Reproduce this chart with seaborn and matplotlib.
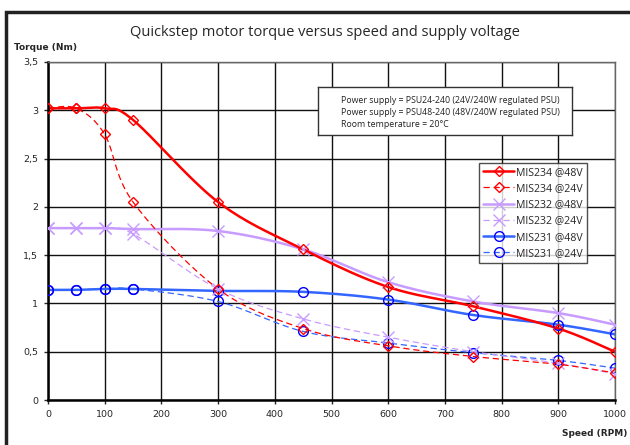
import numpy as np
import pandas as pd
import matplotlib
matplotlib.use('Agg')
import matplotlib.pyplot as plt
import seaborn as sns
from matplotlib.lines import Line2D
from matplotlib.patches import Rectangle
from matplotlib.ticker import FuncFormatter

# data
speed = [0, 50, 100, 150, 300, 450, 600, 750, 900, 1000]
mis234_48 = [3.02, 3.02, 3.02, 2.90, 2.05, 1.56, 1.17, 0.97, 0.74, 0.50]
mis234_24 = [3.02, 3.02, 2.75, 2.05, 1.15, 0.74, 0.56, 0.45, 0.37, 0.28]
mis232_48 = [1.78, 1.78, 1.78, 1.77, 1.75, 1.56, 1.22, 1.02, 0.90, 0.78]
mis232_24 = [1.78, 1.78, 1.78, 1.72, 1.15, 0.84, 0.65, 0.50, 0.38, 0.27]
mis231_48 = [1.14, 1.14, 1.15, 1.15, 1.13, 1.12, 1.04, 0.88, 0.78, 0.68]
mis231_24 = [1.14, 1.14, 1.15, 1.15, 1.02, 0.71, 0.59, 0.49, 0.41, 0.33]

note_lines = ["Power supply = PSU24-240 (24V/240W regulated PSU)",
              "Power supply = PSU48-240 (48V/240W regulated PSU)",
              "Room temperature = 20\u00b0C"]


def smooth(x, y, n=20):
    # Excel-style smoothed line (Catmull-Rom through the points)
    p = np.column_stack([x, y]).astype(float)
    p = np.vstack([p[0], p, p[-1]])
    out = []
    t = np.linspace(0, 1, n, endpoint=False)
    for i in range(1, len(p) - 2):
        p0, p1, p2, p3 = p[i - 1], p[i], p[i + 1], p[i + 2]
        tt = t[:, None]
        seg = 0.5 * ((2 * p1) + (-p0 + p2) * tt + (2 * p0 - 5 * p1 + 4 * p2 - p3) * tt ** 2
                     + (-p0 + 3 * p1 - 3 * p2 + p3) * tt ** 3)
        out.append(seg)
    out.append(p[-2][None, :])
    out = np.vstack(out)
    return out[:, 0], out[:, 1]


series = [
    ("MIS234 @48V", mis234_48, '#ff0000', '#ff0000', '-', 1.8, 'D', 5),
    ("MIS234 @24V", mis234_24, '#ff0000', '#ff0000', (0, (5, 3)), 0.9, 'D', 5),
    ("MIS232 @48V", mis232_48, '#c79bff', '#c79bff', '-', 1.8, 'x', 8),
    ("MIS232 @24V", mis232_24, '#c79bff', '#c79bff', (0, (5, 3)), 0.9, 'x', 8),
    ("MIS231 @48V", mis231_48, '#3366ff', '#0000ff', '-', 1.8, 'o', 7),
    ("MIS231 @24V", mis231_24, '#3366ff', '#0000ff', (0, (5, 3)), 0.9, 'o', 7),
]

sns.set_style('white')
plt.rcParams['font.family'] = ['DejaVu Sans']

fig = plt.figure(figsize=(6.3, 4.45), dpi=100)
ax = fig.add_axes([48 / 630, 1 - 400 / 445, 567 / 630, 338 / 445])

handles = []
# draw in reverse so red ends on top
for name, vals, lc, mc, ls, lw, mk, ms in reversed(series):
    sx, sy = smooth(speed, vals)
    df = pd.DataFrame({'x': sx, 'y': sy})
    sns.lineplot(data=df, x='x', y='y', ax=ax, color=lc, linewidth=lw,
                 sort=False, estimator=None, legend=False)
    ax.lines[-1].set_linestyle(ls)
    ax.plot(speed, vals, linestyle='none', marker=mk, markersize=ms,
            markerfacecolor='none', markeredgecolor=mc, markeredgewidth=1.0, zorder=4)
for name, vals, lc, mc, ls, lw, mk, ms in series:
    handles.append(Line2D([], [], color=lc, linestyle=ls, linewidth=lw, marker=mk,
                          markersize=ms, markerfacecolor='none', markeredgecolor=mc,
                          label=name))

ax.set_xlim(0, 1000)
ax.set_ylim(0, 3.5)
ax.set_xticks(np.arange(0, 1001, 100))
ax.set_yticks(np.arange(0, 3.51, 0.5))
ax.yaxis.set_major_formatter(FuncFormatter(lambda v, p: ('%g' % v).replace('.', ',')))
ax.grid(True, color='#111111', linewidth=1.0)
ax.set_axisbelow(True)
ax.tick_params(axis='both', labelsize=6.8, length=3, width=1, direction='out', pad=4,
               bottom=True, left=True)
for s in ['left', 'bottom']:
    ax.spines[s].set_color('black')
    ax.spines[s].set_linewidth(1.8)
for s in ['top', 'right']:
    ax.spines[s].set_color('#666666')
    ax.spines[s].set_linewidth(1.0)
ax.set_xlabel('')
ax.set_ylabel('')

fig.text(325 / 630, 1 - 32 / 445, 'Quickstep motor torque versus speed and supply voltage',
         ha='center', va='center', fontsize=10.5, family='Open Sans')
fig.text(46 / 630, 1 - 47 / 445, 'Torque (Nm)', ha='center', va='center',
         fontsize=6.5, fontweight='bold')
fig.text(595 / 630, 1 - 433 / 445, 'Speed (RPM)', ha='center', va='center',
         fontsize=6.5, fontweight='bold')

# outer chart frame
fig.patches.append(Rectangle((6 / 630, -0.1), 1.1, 1 - 12 / 445 + 0.1,
                             transform=fig.transFigure, fill=False,
                             edgecolor='#222222', linewidth=2.5))

# note box
ax_note = fig.add_axes([318 / 630, 1 - 135 / 445, 254 / 630, 48 / 445])
ax_note.set_xticks([])
ax_note.set_yticks([])
ax_note.set_facecolor('white')
for s in ax_note.spines.values():
    s.set_linewidth(1.0)
    s.set_color('#333333')
for i, line in enumerate(note_lines):
    ax_note.text(23 / 254, 1 - (13 + 12 * i) / 48, line, transform=ax_note.transAxes,
                 ha='left', va='center', fontsize=6.3, family='Open Sans', color='#222222')

leg = ax.legend(handles=handles, loc='upper left', bbox_to_anchor=(431 / 567, 1 - 101 / 338),
                fontsize=7.6, frameon=True, fancybox=False, edgecolor='#222222',
                numpoints=1, handlelength=3.0, handletextpad=0.2, labelspacing=0.5,
                borderpad=0.35, borderaxespad=0)
leg.get_frame().set_linewidth(1.0)
for t in leg.get_texts():
    t.set_family('Open Sans')

fig.savefig('out.png', dpi=100)
